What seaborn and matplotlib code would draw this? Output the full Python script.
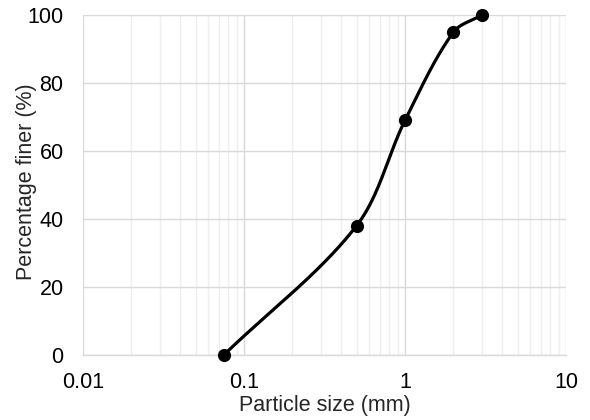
import numpy as np
import pandas as pd
import matplotlib
matplotlib.use("Agg")
import matplotlib.pyplot as plt
from matplotlib.ticker import LogLocator, FixedLocator, FuncFormatter
import seaborn as sns

# Sieve analysis results
particle_size_mm = [0.075, 0.5, 1.0, 2.0, 3.0]
percent_finer = [0, 38, 69, 95, 100]

sns.set_theme(style="white")
plt.rcParams["font.family"] = ["Liberation Sans", "DejaVu Sans"]

fig = plt.figure(figsize=(5.9, 4.2), dpi=100)
ax = fig.add_axes([0.1407, 0.155, 0.8186, 0.809])
ax.set_xscale("log")
ax.set_xlim(0.01, 10)
ax.set_ylim(0, 100)

# Smoothed grading curve: chord-weighted Catmull-Rom Bezier in display units
W, H = 483.0, 340.0
px = (np.log10(particle_size_mm) + 2) / 3 * W
py = np.array(percent_finer, dtype=float) / 100 * H
P = np.column_stack([px, py])
Pe = np.vstack([P[0], P, P[-1]])
curve = []
t = np.linspace(0, 1, 60)
for i in range(len(P) - 1):
    p0, p1, p2, p3 = Pe[i], Pe[i + 1], Pe[i + 2], Pe[i + 3]
    d01 = np.linalg.norm(p1 - p0)
    d12 = np.linalg.norm(p2 - p1)
    d23 = np.linalg.norm(p3 - p2)
    c1 = p1 + (p2 - p0) * d12 / (d01 + d12) / 3
    c2 = p2 - (p3 - p1) * d12 / (d12 + d23) / 3
    seg = ((1 - t) ** 3)[:, None] * p1 + (3 * (1 - t) ** 2 * t)[:, None] * c1 \
        + (3 * (1 - t) * t ** 2)[:, None] * c2 + (t ** 3)[:, None] * p2
    curve.append(seg if i == 0 else seg[1:])
curve = np.vstack(curve)
smooth = pd.DataFrame({
    "size": 10 ** (curve[:, 0] / W * 3 - 2),
    "finer": curve[:, 1] / H * 100,
})

data = pd.DataFrame({"size": particle_size_mm, "finer": percent_finer})

sns.lineplot(data=smooth, x="size", y="finer", sort=False, color="black",
             linewidth=2.3, ax=ax, zorder=3)
sns.scatterplot(data=data, x="size", y="finer", color="black", s=90,
                edgecolor="black", linewidth=0, ax=ax, zorder=4, clip_on=False)

# Grid
ax.xaxis.set_major_locator(FixedLocator([0.01, 0.1, 1, 10]))
ax.xaxis.set_minor_locator(LogLocator(base=10, subs=np.arange(2, 10)))
ax.xaxis.set_major_formatter(FuncFormatter(lambda v, _: f"{v:g}"))
ax.yaxis.set_major_locator(FixedLocator([0, 20, 40, 60, 80, 100]))
ax.grid(which="major", axis="both", color="#d9d9d9", linewidth=1.0)
ax.grid(which="minor", axis="x", color="#efefef", linewidth=1.0)
ax.set_axisbelow(True)

for side in ["top", "right", "left"]:
    ax.spines[side].set_visible(False)
ax.spines["bottom"].set_color("#d9d9d9")
ax.spines["bottom"].set_linewidth(1.0)

ax.tick_params(axis="both", which="both", length=0, labelsize=15.5,
               colors="black")
ax.tick_params(axis="x", pad=12)
ax.tick_params(axis="y", pad=14)
ax.set_xlabel("Particle size (mm)", fontsize=15.5, labelpad=2)
ax.set_ylabel("Percentage finer (%)", fontsize=15.5)
ax.yaxis.set_label_coords(-0.095, 0.51)

fig.savefig("out.png", dpi=100)
